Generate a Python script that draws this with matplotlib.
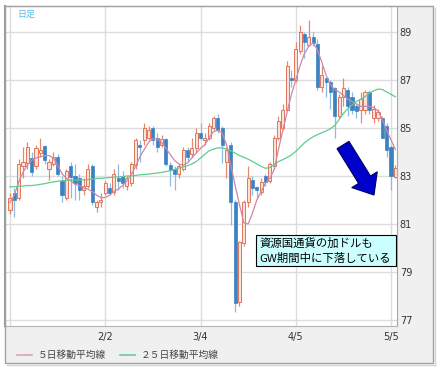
import matplotlib
matplotlib.use("Agg")
import matplotlib.pyplot as plt
import numpy as np
from matplotlib.patches import Rectangle, FancyArrow
from matplotlib.lines import Line2D

plt.rcParams['font.family'] = ['Noto Sans CJK JP', 'DejaVu Sans']

# ---------------- data ----------------
open_ = [81.6, 82.3, 82.1, 83.4, 83.55, 83.75, 83.4, 83.95, 84.25, 83.3,
         83.5, 83.8, 82.8, 82.1, 83.4, 83.0, 82.9, 82.4, 82.6, 83.4,
         81.7, 81.9, 82.3, 82.5, 82.35, 82.9, 83.0, 82.6, 82.7, 83.45,
         84.3, 84.5, 84.6, 85.0, 84.6, 84.3, 84.55, 83.45, 83.3, 83.1,
         83.3, 84.1, 83.9, 84.15, 84.8, 84.5, 84.6, 85.0, 85.4, 85.0,
         83.6, 84.3, 81.9, 77.75, 80.2, 81.9, 82.85, 82.55, 82.35, 83.0,
         82.8, 83.4, 84.6, 85.0, 85.75, 87.1, 87.0, 88.2, 88.9, 88.45,
         88.8, 88.5, 86.7, 87.1, 86.9, 86.65, 85.5, 86.3, 86.6, 86.3,
         85.9, 85.75, 85.75, 86.5, 85.4, 85.4, 85.4, 85.1, 84.2, 82.95]
high = [82.3, 82.5, 83.7, 84.2, 84.4, 84.0, 84.3, 84.6, 84.3, 83.7,
        84.0, 83.9, 83.0, 83.3, 83.6, 83.5, 83.1, 82.9, 83.5, 83.5,
        82.0, 82.3, 82.8, 82.7, 83.3, 83.5, 83.2, 83.0, 83.6, 84.6,
        84.5, 85.2, 85.1, 85.1, 84.8, 84.7, 84.6, 83.6, 83.4, 83.5,
        84.2, 84.2, 84.6, 85.0, 85.2, 84.8, 85.2, 85.5, 85.6, 85.1,
        84.2, 84.4, 82.0, 80.3, 82.0, 83.4, 83.0, 82.6, 82.9, 83.1,
        83.6, 84.7, 85.5, 86.0, 87.8, 87.4, 88.6, 89.3, 89.0, 89.5,
        89.0, 88.7, 87.6, 87.1, 87.0, 86.7, 86.4, 87.1, 86.7, 86.5,
        86.0, 86.5, 86.6, 86.6, 85.95, 85.8, 85.5, 85.2, 84.3, 83.45]
low = [81.4, 81.3, 82.0, 82.9, 83.3, 83.0, 83.3, 83.8, 83.5, 82.85,
       83.4, 83.0, 81.9, 82.0, 82.1, 82.0, 82.0, 82.2, 82.5, 81.8,
       81.5, 81.7, 82.2, 82.2, 82.2, 82.4, 82.5, 82.4, 82.6, 83.3,
       83.6, 84.3, 84.5, 84.3, 84.0, 84.2, 83.4, 82.6, 82.4, 82.9,
       83.2, 83.6, 83.8, 84.0, 84.5, 84.3, 84.5, 84.9, 84.8, 83.55,
       82.9, 80.95, 77.35, 77.6, 80.1, 81.7, 82.2, 82.1, 82.2, 82.6,
       82.7, 83.3, 84.5, 84.9, 85.7, 86.7, 86.9, 88.1, 87.9, 88.4,
       88.4, 86.6, 86.5, 86.3, 85.8, 84.6, 85.4, 85.9, 85.5, 85.6,
       85.4, 85.2, 85.6, 85.6, 85.2, 85.3, 84.6, 83.8, 82.4, 82.9]
close = [82.1, 82.0, 83.5, 83.6, 84.2, 83.15, 84.15, 84.1, 83.65, 83.6,
         83.8, 83.1, 82.2, 83.2, 82.95, 82.7, 82.4, 82.6, 83.3, 81.9,
         81.9, 82.0, 82.7, 82.3, 83.1, 82.8, 82.7, 82.9, 83.5, 84.5,
         84.2, 85.0, 84.9, 84.5, 84.2, 84.55, 83.5, 83.25, 83.1, 83.4,
         84.1, 83.8, 84.15, 84.8, 84.6, 84.6, 85.1, 85.4, 84.9, 84.3,
         84.1, 81.9, 77.7, 80.25, 81.9, 82.9, 82.5, 82.4, 82.75, 82.75,
         83.5, 84.6, 85.3, 85.75, 87.6, 87.0, 88.3, 89.0, 88.6, 88.8,
         88.55, 86.7, 87.2, 86.9, 86.5, 85.5, 86.3, 86.65, 85.9, 85.75,
         85.7, 86.2, 86.5, 85.75, 85.8, 85.65, 84.6, 84.1, 83.0, 83.35]
ma5 = [81.9, 82.2, 82.75, 83.15, 83.45, 83.65, 83.75, 83.8, 83.85, 83.85,
       83.75, 83.45, 83.1, 82.9, 82.8, 82.65, 82.6, 82.5, 82.45, 82.35,
       82.2, 82.1, 82.1, 82.2, 82.35, 82.45, 82.6, 82.8, 83.05, 83.4,
       83.8, 84.1, 84.4, 84.55, 84.55, 84.4, 84.15, 83.9, 83.65, 83.5,
       83.45, 83.55, 83.75, 83.95, 84.15, 84.3, 84.6, 84.85, 84.9, 84.8,
       84.3, 83.45, 82.6, 81.8, 81.05, 81.0, 81.45, 82.0, 82.35, 82.7,
       82.9, 83.25, 84.1, 84.9, 85.65, 86.4, 87.0, 87.6, 88.1, 88.4,
       88.55, 88.25, 87.75, 87.2, 86.8, 86.6, 86.5, 86.35, 86.2, 86.1,
       86.0, 85.9, 85.9, 85.9, 85.85, 85.7, 85.35, 84.9, 84.5, 84.1]
ma25 = [82.55, 82.55, 82.57, 82.58, 82.6, 82.6, 82.62, 82.65, 82.68, 82.72,
        82.75, 82.78, 82.8, 82.82, 82.83, 82.83, 82.83, 82.84, 82.85, 82.87,
        82.9, 82.9, 82.92, 82.93, 82.95, 82.96, 82.97, 83.0, 83.0, 83.02,
        83.05, 83.06, 83.08, 83.1, 83.12, 83.15, 83.18, 83.22, 83.27, 83.33,
        83.38, 83.43, 83.5, 83.6, 83.75, 83.9, 84.05, 84.12, 84.17, 84.17,
        84.12, 84.05, 83.95, 83.85, 83.78, 83.7, 83.6, 83.5, 83.4, 83.32,
        83.35, 83.48, 83.6, 83.68, 83.77, 83.88, 84.02, 84.2, 84.38, 84.52,
        84.63, 84.72, 84.8, 84.87, 84.97, 85.1, 85.35, 85.6, 85.8, 85.95,
        86.1, 86.2, 86.3, 86.45, 86.55, 86.62, 86.6, 86.5, 86.4, 86.3]
ytick_vals = [77, 79, 81, 83, 85, 87, 89]
xtick_pos = [0, 22, 44, 66, 88]
xtick_labels = ['', '2/2', '3/4', '4/5', '5/5']
legend_labels = ['５日移動平均線', '２５日移動平均線']
note_lines = ['資源国通貨の加ドルも', 'GW期間中に下落している']
title_text = '日足'

# ---------------- figure ----------------
W, H = 440, 370
fig = plt.figure(figsize=(W / 100, H / 100), dpi=100)

bg = fig.add_axes([0, 0, 1, 1], zorder=0)
bg.set_xlim(0, W); bg.set_ylim(H, 0); bg.axis('off')
bg.add_patch(Rectangle((5, 6), 428, 357, facecolor='#f0f0f0', edgecolor='none'))

ax = fig.add_axes([5 / W, (H - 326) / H, 392 / W, 320 / H], zorder=1)
ax.set_facecolor('white')
ax.set_xlim(-1.155, 89.38)
ax.set_ylim(76.75, 90.08)

idx = np.arange(len(close))
o = np.array(open_); c = np.array(close)
hi = np.array(high); lo = np.array(low)
up = c >= o
bb = np.minimum(o, c)
bh = np.maximum(np.abs(c - o), 0.05)

ax.vlines(idx[up], lo[up], hi[up], color='#e8866e', lw=0.9, zorder=2)
ax.vlines(idx[~up], lo[~up], hi[~up], color='#8dbbe2', lw=0.9, zorder=2)
ax.bar(idx[up], bh[up], bottom=bb[up], width=0.72, facecolor='#fbe2da',
       edgecolor='#e2765a', lw=0.7, zorder=2.5)
ax.bar(idx[~up], bh[~up], bottom=bb[~up], width=0.72, facecolor='#3b82c2',
       edgecolor='#3b82c2', lw=0.5, zorder=2.5)

ax.plot(idx, ma5, color='#cc88aa', lw=0.9, zorder=3)
ax.plot(idx, ma25, color='#5fcc8e', lw=0.9, zorder=3)

ax.set_yticks(ytick_vals)
ax.set_xticks(xtick_pos)
ax.set_xticklabels(xtick_labels)
ax.yaxis.tick_right()
ax.tick_params(axis='y', length=0, pad=2, labelsize=7, labelcolor='#333333')
ax.tick_params(axis='x', length=0, pad=4, labelsize=7, labelcolor='#333333')
for lab in ax.get_yticklabels() + ax.get_xticklabels():
    lab.set_fontfamily('DejaVu Sans')
ax.grid(True, color='#dddddd', lw=1.0)
ax.set_axisbelow(True)
ax.spines['left'].set_color('#9a9a9a'); ax.spines['left'].set_linewidth(1.5)
ax.spines['top'].set_color('#c8c8c8')
ax.spines['right'].set_color('#a8a8a8')
ax.spines['bottom'].set_color('#b4b4b4')

# ---------------- overlay ----------------
ov = fig.add_axes([0, 0, 1, 1], zorder=5)
ov.set_xlim(0, W); ov.set_ylim(H, 0); ov.axis('off')
ov.patch.set_alpha(0)

ov.add_patch(Rectangle((5, 6), 428, 357, fill=False, edgecolor='#a0a0a0', lw=1.0))
ov.add_line(Line2D([434.5, 434.5], [8, 364.5], color='#d4d4d4', lw=1.0))
ov.add_line(Line2D([7, 434.5], [364.5, 364.5], color='#d4d4d4', lw=1.0))

ov.text(17, 14, title_text, color='#55bbee', fontsize=6.5, va='center', ha='left')

ov.add_patch(Rectangle((256, 235), 140, 31, facecolor='#ccffff', edgecolor='black', lw=0.8))
ov.text(259, 243.5, note_lines[0], fontsize=8.2, va='center', ha='left', color='black')
ov.text(259, 258, note_lines[1], fontsize=8.2, va='center', ha='left', color='black')

ov.add_patch(FancyArrow(343, 145, 31, 50, width=14, head_width=30, head_length=18,
                        length_includes_head=True, facecolor='#0000cc',
                        edgecolor='#000060', lw=0.8))

ov.add_line(Line2D([17, 32], [355, 355], color='#e0a0b8', lw=1.2))
ov.text(38, 355, legend_labels[0], fontsize=7, va='center', ha='left', color='#444444')
ov.add_line(Line2D([120, 135], [355, 355], color='#66cc99', lw=1.2))
ov.text(141, 355, legend_labels[1], fontsize=7, va='center', ha='left', color='#444444')

fig.savefig('out.png', dpi=100)
